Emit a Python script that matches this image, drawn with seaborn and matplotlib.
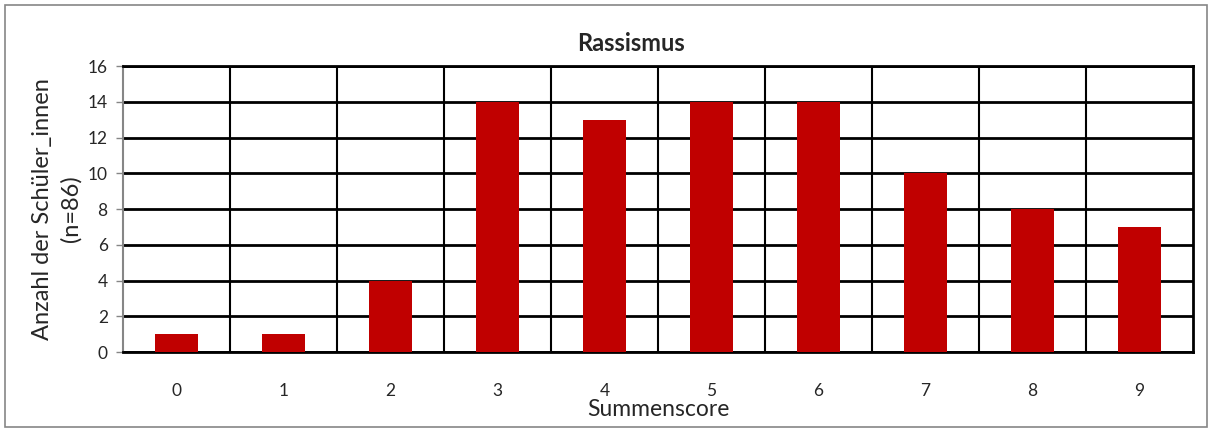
import pandas as pd
import seaborn as sns
import matplotlib.pyplot as plt
from matplotlib.patches import Rectangle

# Daten
summenscore = ["0", "1", "2", "3", "4", "5", "6", "7", "8", "9"]
anzahl = [1, 1, 4, 14, 13, 14, 14, 10, 8, 7]

df = pd.DataFrame({"Summenscore": summenscore, "Anzahl": anzahl})

sns.set_style("white")
plt.rcParams['font.family'] = ['Lato', 'DejaVu Sans']

fig = plt.figure(figsize=(12.12, 4.32), dpi=100)
ax = fig.add_axes([0.1015, 0.185, 0.8828, 0.662])

sns.barplot(data=df, x="Summenscore", y="Anzahl", order=summenscore,
            color="#C00000", width=0.4, saturation=1, linewidth=0,
            edgecolor="none", ax=ax, zorder=3)

ax.set_xlim(-0.5, 9.5)
ax.set_ylim(0, 16)
ax.set_yticks(range(0, 17, 2))

# Gitter: horizontal an den y-Ticks, vertikal zwischen den Kategorien
ax.set_xticks([i + 0.5 for i in range(9)], minor=True)
ax.grid(axis='y', which='major', color='black', linewidth=2, zorder=0)
ax.grid(axis='x', which='minor', color='black', linewidth=1.5, zorder=0)
ax.set_axisbelow(True)

ax.tick_params(axis='x', which='both', length=0, labelsize=12.5, pad=22)
ax.tick_params(axis='y', length=5, color='#868686', width=1, labelsize=12.5,
               left=True, pad=6)

for side in ['top', 'right', 'bottom']:
    ax.spines[side].set_color('black')
    ax.spines[side].set_linewidth(2)
ax.spines['left'].set_color('#868686')
ax.spines['left'].set_linewidth(1.5)

ax.set_title("Rassismus", fontsize=17, fontweight='bold', x=0.475, pad=11)
ax.set_xlabel("Summenscore", fontsize=16.5, labelpad=0)
ax.set_ylabel("Anzahl der Schüler_innen\n(n=86)", fontsize=17, labelpad=4,
              linespacing=1.45)

# Rahmen um die ganze Grafik
fig.patches.append(Rectangle((0.004, 0.012), 0.992, 0.976, transform=fig.transFigure,
                             fill=False, edgecolor='#868686', linewidth=1.2))

fig.savefig("out.png", dpi=100)
